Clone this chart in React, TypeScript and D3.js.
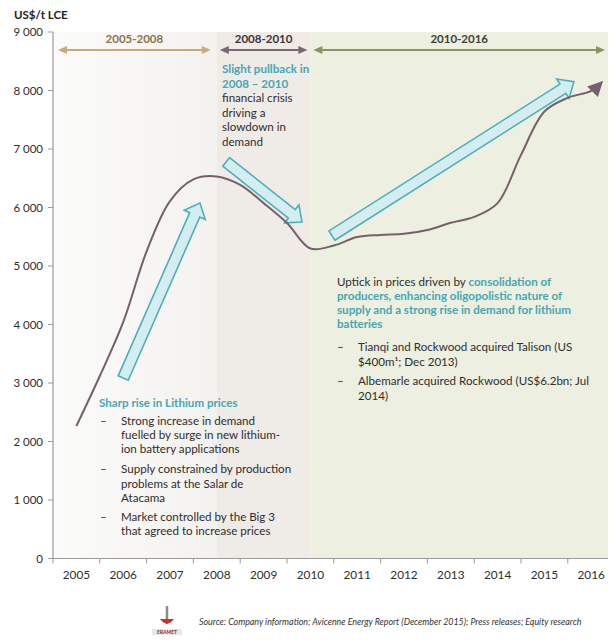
import React from 'react';
import * as d3 from 'd3';

const years = ['2005', '2006', '2007', '2008', '2009', '2010', '2011', '2012', '2013', '2014', '2015', '2016'];
const yTicks = [0, 1000, 2000, 3000, 4000, 5000, 6000, 7000, 8000, 9000];
const priceT = [2005, 2005.5, 2006, 2006.5, 2007, 2007.5, 2008, 2008.5, 2009, 2009.5, 2010, 2010.5, 2011, 2011.5, 2012, 2012.5, 2013, 2013.5, 2014, 2014.5, 2015, 2015.5, 2016, 2016.23];
const priceV = [2265, 3120, 4040, 5250, 6110, 6480, 6530, 6385, 6075, 5735, 5300, 5350, 5495, 5530, 5550, 5615, 5740, 5840, 6075, 6900, 7640, 7875, 7995, 8145];

const periods = [
  { label: '2005-2008', from: 2004.5, to: 2008, fill: 'url(#g1)', line: '#c8ab79', text: '#8a7347' },
  { label: '2008-2010', from: 2008, to: 2010, fill: '#efebe7', line: '#7d6572', text: '#3e3338' },
  { label: '2010-2016', from: 2010, to: 2016.36, fill: '#edefe1', line: '#8b9360', text: '#3f4030' },
];

// fat arrows: [tailYear, tailValue, tipYear, tipValue]
const trendArrows = [
  [2006.0, 3085, 2007.64, 6077],
  [2008.2, 6780, 2009.82, 5753],
  [2010.46, 5520, 2015.63, 8150],
];

const W = 612, H = 643;
const x = d3.scaleLinear().domain([2004.5, 2016.5]).range([53, 614.6]);
const y = d3.scaleLinear().domain([0, 9000]).range([558.5, 32]);
const FONT = "Lato, 'Open Sans', sans-serif";
const FS = 11.6;

function fatArrow(x1: number, y1: number, x2: number, y2: number, sw: number, hw: number, hl: number) {
  const dx = x2 - x1, dy = y2 - y1;
  const len = Math.hypot(dx, dy);
  const ux = dx / len, uy = dy / len;
  const nx = -uy, ny = ux;
  const bx = x2 - ux * hl, by = y2 - uy * hl;
  const pts = [
    [x1 + nx * sw, y1 + ny * sw],
    [bx + nx * sw, by + ny * sw],
    [bx + nx * hw, by + ny * hw],
    [x2, y2],
    [bx - nx * hw, by - ny * hw],
    [bx - nx * sw, by - ny * sw],
    [x1 - nx * sw, y1 - ny * sw],
  ];
  return pts.map(p => p.join(',')).join(' ');
}

export default function App() {
  const pts: [number, number][] = priceT.map((t, i) => [x(t), y(priceV[i])]);
  const line = d3.line().curve(d3.curveCatmullRom.alpha(0.5))(pts) || '';
  const ticksX = d3.range(0, 12).map(i => x(2004.5 + i));
  const textDark = '#2e2e2e';
  const teal = '#45a7b2';
  return (
    <svg width={W} height={H} style={{ position: 'absolute', left: 0, top: 0, background: '#fff' }} fontFamily={FONT}>
      <defs>
        <linearGradient id="g1" x1="0" x2="1" y1="0" y2="0">
          <stop offset="0" stopColor="#fbfbfa" />
          <stop offset="1" stopColor="#f4f2ef" />
        </linearGradient>
        <marker id="curveHead" viewBox="0 0 10 10" refX="9" refY="5" markerWidth="7.5" markerHeight="8" orient="auto">
          <path d="M0,0 L10,5 L0,10 z" fill="#76606b" />
        </marker>
      </defs>

      {/* background period regions */}
      {periods.map(p => (
        <rect key={p.label} x={x(p.from)} y={y(9000)} width={x(p.to) - x(p.from)} height={y(0) - y(9000)} fill={p.fill} />
      ))}

      {/* header period arrows */}
      {periods.map((p, i) => {
        const a = x(p.from) + (i === 0 ? 5 : 3);
        const b = x(p.to) - (i === 0 ? 6 : 3);
        const yy = 50;
        return (
          <g key={'h' + p.label}>
            <line x1={a + 6} x2={b - 6} y1={yy} y2={yy} stroke={p.line} strokeWidth={2} />
            <path d={`M${a},${yy} L${a + 9},${yy - 4} L${a + 9},${yy + 4} Z`} fill={p.line} />
            <path d={`M${b},${yy} L${b - 9},${yy - 4} L${b - 9},${yy + 4} Z`} fill={p.line} />
            <text x={(a + b) / 2} y={43} textAnchor="middle" fontSize={11.5} fontWeight={700} fill={p.text}>{p.label}</text>
          </g>
        );
      })}

      {/* axes */}
      <line x1={53} x2={53} y1={y(9000)} y2={y(0)} stroke="#9a9a9a" strokeWidth={1.2} />
      <line x1={53} x2={608} y1={y(0)} y2={y(0)} stroke="#9a9a9a" strokeWidth={1.2} />
      {yTicks.map(t => (
        <g key={t}>
          <line x1={48} x2={53} y1={y(t)} y2={y(t)} stroke="#9a9a9a" />
          <text x={43} y={y(t) + 4} textAnchor="end" fontSize={11.5} fill={textDark}>{d3.format(',')(t).replace(',', ' ')}</text>
        </g>
      ))}
      {ticksX.map((tx, i) => (
        <line key={i} x1={tx} x2={tx} y1={y(0)} y2={y(0) + 5} stroke="#9a9a9a" />
      ))}
      {years.map(yr => (
        <text key={yr} x={x(+yr)} y={579} textAnchor="middle" fontSize={11.8} fill={textDark}>{yr}</text>
      ))}
      <text x={14} y={19} fontSize={11.5} fontWeight={700} fill="#222">US$/t LCE</text>

      {/* trend arrows */}
      {trendArrows.map((a, i) => (
        <polygon key={i} points={fatArrow(x(a[0]), y(a[1]), x(a[2]), y(a[3]), 5.5, 11.5, 13)}
          fill="#d3edf1" stroke="#4cb0bb" strokeWidth={1.6} strokeLinejoin="miter" />
      ))}

      {/* price curve */}
      <path d={line} fill="none" stroke="#76606b" strokeWidth={2} markerEnd="url(#curveHead)" />

      {/* annotation: 2008-2010 */}
      <g fontSize={FS}>
        <text x={222} y={73} fill={teal} fontWeight={700}>Slight pullback in</text>
        <text x={222} y={87.5} fill={teal} fontWeight={700}>2008 – 2010</text>
        <text x={222} y={102} fill={textDark}>financial crisis</text>
        <text x={222} y={116.5} fill={textDark}>driving a</text>
        <text x={222} y={131} fill={textDark}>slowdown in</text>
        <text x={222} y={145.5} fill={textDark}>demand</text>
      </g>

      {/* annotation: 2010-2016 */}
      <g fontSize={FS}>
        <text x={337} y={286} fill={textDark}>Uptick in prices driven by <tspan fill={teal} fontWeight={700}>consolidation of</tspan></text>
        <text x={337} y={300} fill={teal} fontWeight={700}>producers, enhancing oligopolistic nature of</text>
        <text x={337} y={314} fill={teal} fontWeight={700}>supply and a strong rise in demand for lithium</text>
        <text x={337} y={328} fill={teal} fontWeight={700}>batteries</text>
        <text x={337} y={351} fill={textDark}>–</text>
        <text x={358} y={351} fill={textDark}>Tianqi and Rockwood acquired Talison (US</text>
        <text x={358} y={366} fill={textDark}>$400m¹; Dec 2013)</text>
        <text x={337} y={385} fill={textDark}>–</text>
        <text x={358} y={385} fill={textDark}>Albemarle acquired Rockwood (US$6.2bn; Jul</text>
        <text x={358} y={399.5} fill={textDark}>2014)</text>
      </g>

      {/* annotation: 2005-2008 */}
      <g fontSize={FS}>
        <text x={99} y={407} fill={teal} fontWeight={700}>Sharp rise in Lithium prices</text>
        <text x={100} y={425} fill={textDark}>–</text>
        <text x={121} y={425} fill={textDark}>Strong increase in demand</text>
        <text x={121} y={439} fill={textDark}>fuelled by surge in new lithium-</text>
        <text x={121} y={453} fill={textDark}>ion battery applications</text>
        <text x={100} y={473} fill={textDark}>–</text>
        <text x={121} y={473} fill={textDark}>Supply constrained by production</text>
        <text x={121} y={487.5} fill={textDark}>problems at the Salar de</text>
        <text x={121} y={502} fill={textDark}>Atacama</text>
        <text x={100} y={521} fill={textDark}>–</text>
        <text x={121} y={521} fill={textDark}>Market controlled by the Big 3</text>
        <text x={121} y={535} fill={textDark}>that agreed to increase prices</text>
      </g>

      {/* source + logo */}
      <text x={199} y={625} fontSize={8.9} fontStyle="italic" fill="#333">Source: Company information; Avicenne Energy Report (December 2015); Press releases; Equity research</text>
      <g>
        <line x1={167} x2={167} y1={606} y2={624} stroke="#8a8a8a" strokeWidth={2.5} />
        <path d="M160,619 Q167,628 174,619 Z" fill="#c8322e" />
        <rect x={152} y={629} width={30} height={6} fill="#e8e8e8" />
        <text x={167} y={634} fontSize={5} textAnchor="middle" fontWeight={700} fill="#8a2a2a">ERAMET</text>
      </g>
    </svg>
  );
}
